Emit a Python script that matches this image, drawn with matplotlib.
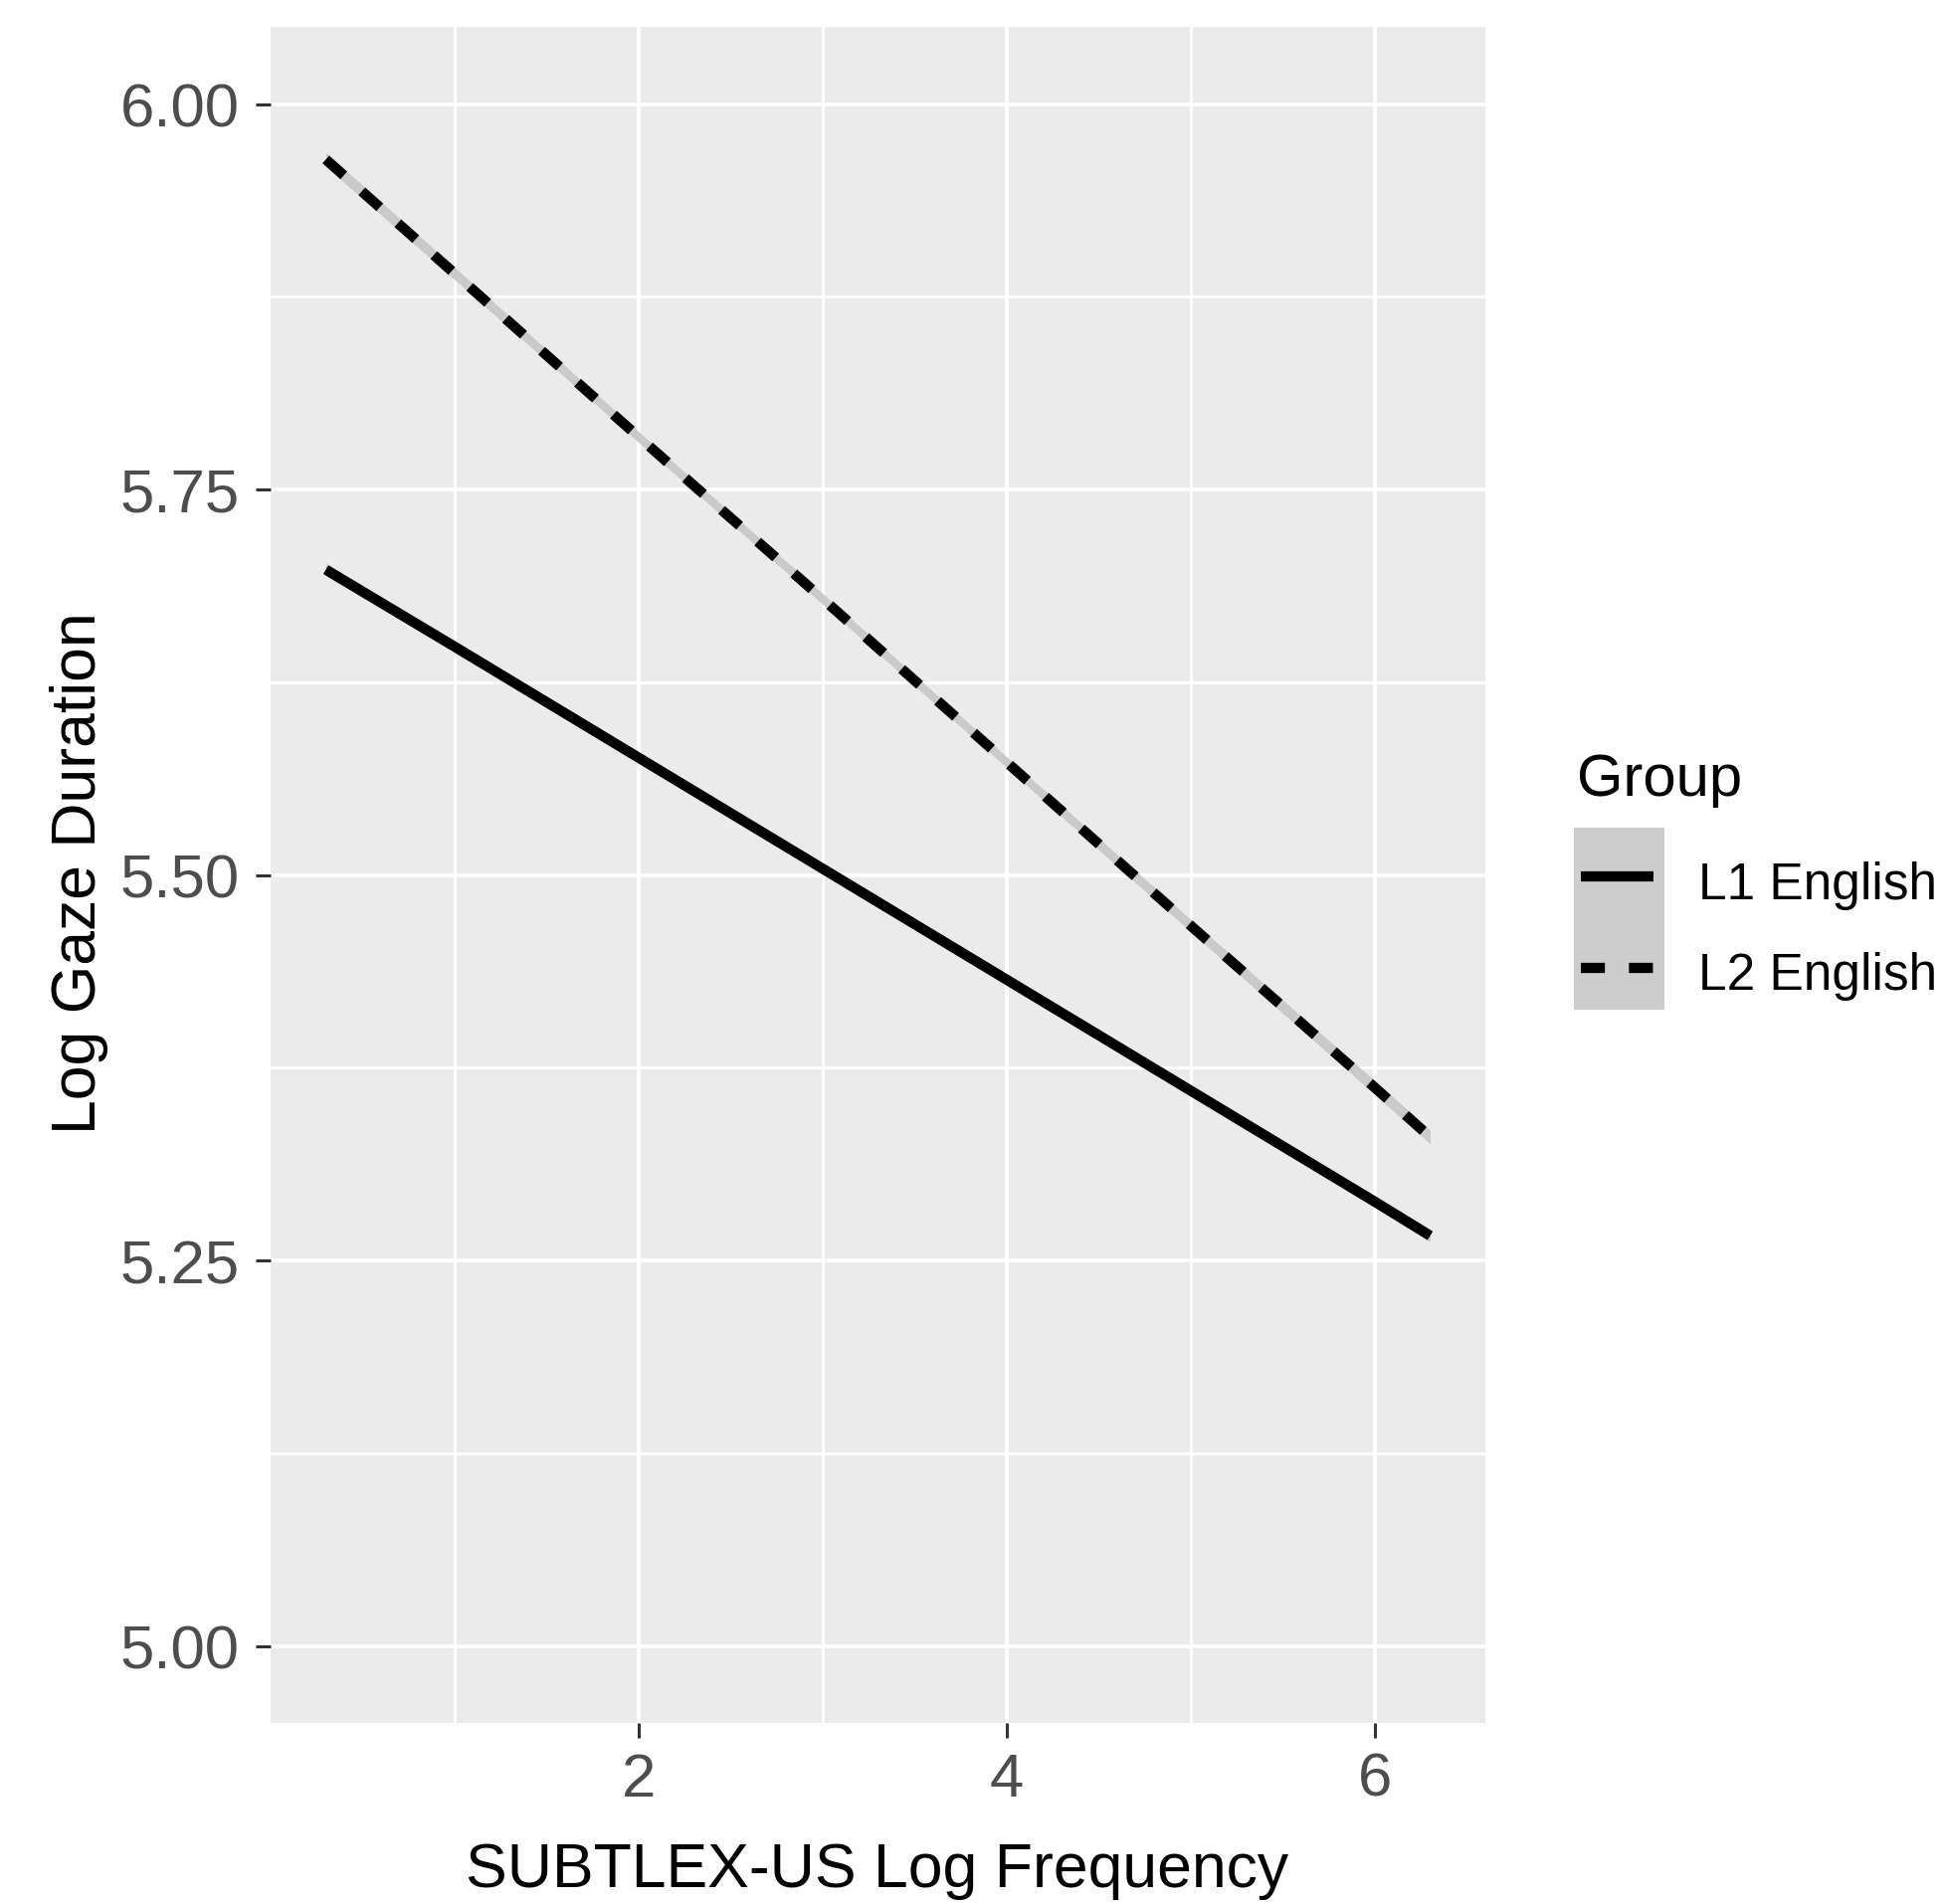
import matplotlib
matplotlib.use("Agg")
import matplotlib.pyplot as plt
from matplotlib.lines import Line2D
from matplotlib.patches import Rectangle

# ---------------- data ----------------
freq = [0.3, 1.0, 2.0, 3.0, 4.0, 5.0, 6.0, 6.3]
l1_fit = [5.698, 5.648, 5.576, 5.504, 5.432, 5.360, 5.288, 5.266]
l1_lo = [5.694, 5.645, 5.5735, 5.5015, 5.4295, 5.357, 5.2845, 5.262]
l1_hi = [5.702, 5.651, 5.5785, 5.5065, 5.4345, 5.363, 5.2915, 5.270]
l2_fit = [5.964, 5.890, 5.784, 5.679, 5.573, 5.467, 5.362, 5.330]
l2_lo = [5.9595, 5.886, 5.7805, 5.6755, 5.5695, 5.463, 5.3575, 5.3255]
l2_hi = [5.9685, 5.894, 5.7875, 5.6825, 5.5765, 5.471, 5.3665, 5.3345]
group_labels = ["L1 English", "L2 English"]
legend_title = "Group"
x_ticks = [2, 4, 6]
x_tick_labels = ["2", "4", "6"]
y_ticks = [5.00, 5.25, 5.50, 5.75, 6.00]
y_tick_labels = ["5.00", "5.25", "5.50", "5.75", "6.00"]
x_minor = [1, 3, 5]
y_minor = [5.125, 5.375, 5.625, 5.875]
x_title = "SUBTLEX-US Log Frequency"
y_title = "Log Gaze Duration"

# ---------------- figure ----------------
W, H = 1956, 1915
DPI = 100
fig = plt.figure(figsize=(W / DPI, H / DPI), dpi=DPI, facecolor="white")
plt.rcParams["font.family"] = ["Liberation Sans", "DejaVu Sans"]


def fx(px):
    return px / W


def fy(py):
    return 1 - py / H


left, right, top, bottom = 272, 1493, 28, 1733
ax = fig.add_axes([fx(left), fy(bottom), (right - left) / W, (bottom - top) / H])
ax.set_facecolor("#EBEBEB")
for s in ax.spines.values():
    s.set_visible(False)

ax.set_xlim(0.0, 6.6)
ax.set_ylim(4.95, 6.05)

# gridlines
for xm in x_minor:
    ax.axvline(xm, color="white", lw=2.2, zorder=0.5)
for ym in y_minor:
    ax.axhline(ym, color="white", lw=2.2, zorder=0.5)
for xt in x_ticks:
    ax.axvline(xt, color="white", lw=2.7, zorder=0.6)
for yt in y_ticks:
    ax.axhline(yt, color="white", lw=2.7, zorder=0.6)

# ribbons
ax.fill_between(freq, l1_lo, l1_hi, color="#CACACA", lw=0, zorder=1)
ax.fill_between(freq, l2_lo, l2_hi, color="#CACACA", lw=0, zorder=1)

LW = 7.4  # points (~10 px)
ax.plot(freq, l1_fit, color="black", lw=LW, solid_capstyle="butt", zorder=2)
ax.plot(freq, l2_fit, color="black", lw=LW, linestyle=(0, (2.35, 2.35)),
        dash_capstyle="butt", zorder=2)

ax.set_xticks(x_ticks)
ax.set_xticklabels(x_tick_labels)
ax.set_yticks(y_ticks)
ax.set_yticklabels(y_tick_labels)
ax.tick_params(axis="both", length=10.8, width=2.2, color="#333333",
               labelcolor="#4D4D4D", labelsize=44.5)
ax.tick_params(axis="x", pad=10)
ax.tick_params(axis="y", pad=11.5)

# axis titles
fig.text(fx(882), fy(1897), x_title, ha="center", va="baseline",
         fontsize=45, color="black")
fig.text(fx(96), fy(878), y_title, ha="center", va="baseline",
         rotation=90, rotation_mode="anchor", fontsize=45, color="black")

# legend (drawn manually to mimic ggplot)
fig.text(fx(1585), fy(800), legend_title, ha="left", va="baseline",
         fontsize=43, color="black")
fig.add_artist(Rectangle((fx(1582), fy(1016)), (1673 - 1582) / W, (1016 - 833) / H,
                         transform=fig.transFigure, facecolor="#CDCDCD",
                         edgecolor="none"))
fig.add_artist(Line2D([fx(1589), fx(1662)], [fy(882), fy(882)],
                      transform=fig.transFigure, color="black", lw=LW,
                      solid_capstyle="butt"))
fig.add_artist(Line2D([fx(1589), fx(1662)], [fy(974), fy(974)],
                      transform=fig.transFigure, color="black", lw=LW,
                      linestyle=(0, (2.35, 2.35)), dash_capstyle="butt"))
fig.text(fx(1707), fy(904), group_labels[0], ha="left", va="baseline",
         fontsize=37, color="black")
fig.text(fx(1707), fy(995), group_labels[1], ha="left", va="baseline",
         fontsize=37, color="black")

fig.savefig("out.png", dpi=DPI, facecolor="white")
